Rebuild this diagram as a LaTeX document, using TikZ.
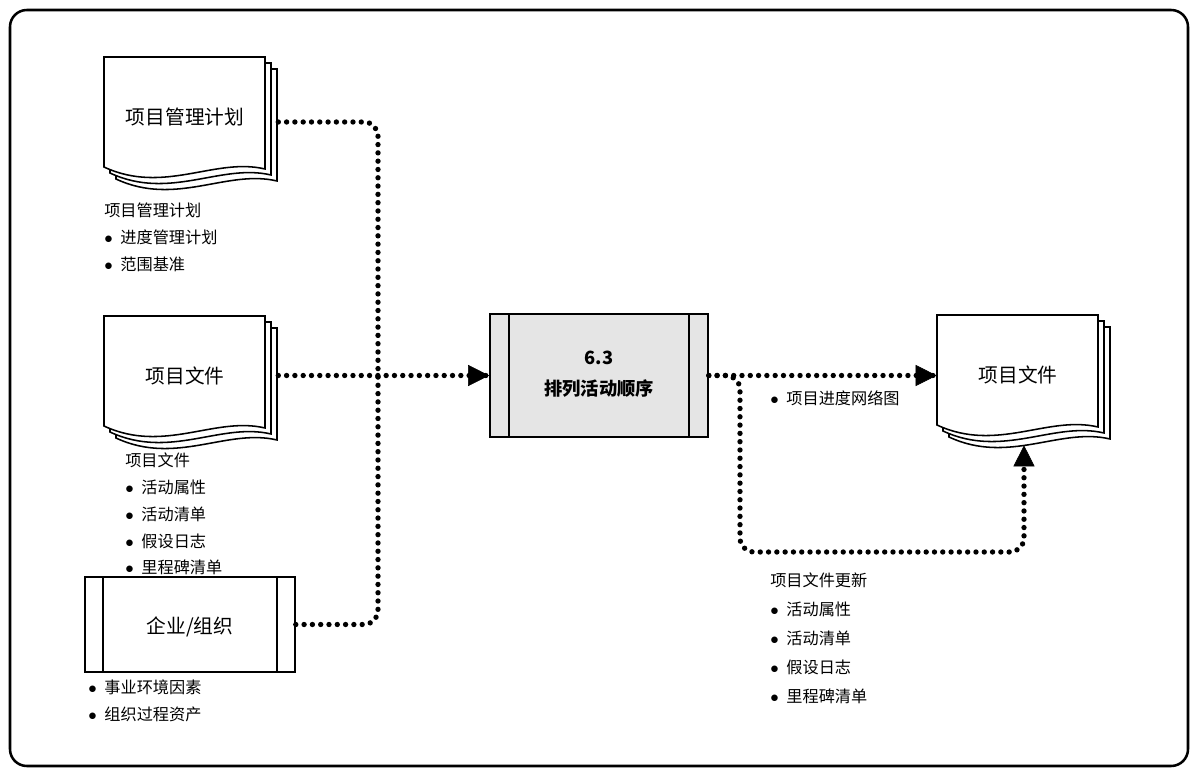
\documentclass[tikz,border=0pt]{standalone}
\usepackage{fontspec}
\setmainfont{Noto Sans CJK SC}
\usetikzlibrary{calc,arrows.meta}
\newcommand{\bul}{\makebox[1.0em][l]{$\bullet$}}
\tikzset{
  flow/.style={line width=3.8pt, dash pattern=on 0pt off 5.9pt, line cap=round, rounded corners=10},
  tip/.style={-{Triangle[length=15pt,width=15pt]}},
  page/.style={draw, fill=white, line width=1.1pt},
  title/.style={font=\fontsize{14}{16}\selectfont},
  notes/.style={anchor=north west, align=left, inner sep=0pt, font=\fontsize{11.5}{19}\selectfont},
  frame/.style={draw, fill=gray!20, line width=1.1pt, minimum width=5.45cm, minimum height=3.08cm},
}
\newcommand{\docshape}[4]{%
  \begin{scope}[shift={(#2,#3)}]
  \foreach \o in {12,6,0}
    \draw[page] (\o,\o) -- ++(161,0) -- ++(0,112) .. controls ++(-50,-12) and ++(60,28) .. ++(-161,-2) -- cycle;
  \node[minimum width=4.35cm, minimum height=3.25cm, inner sep=0pt] (#1) at (87,65) {};
  \node[title] (#1-t) at (81,60) {#4};
  \end{scope}}
\begin{document}
\begin{tikzpicture}[x=0.025cm, y=-0.025cm]
\useasboundingbox (0,0) rectangle (1198,776);
\draw[line width=1.8pt, rounded corners=12] (10,10) rectangle (1188,766);

% inputs
\docshape{plan}{104}{57}{项目管理计划}
\docshape{files}{104}{316}{项目文件}
\node[frame, fill=white, minimum width=5.25cm, minimum height=2.38cm] (ent) at (190,624.5) {};
\draw[line width=1.1pt] ($(ent.north west)+(19,0)$) -- ($(ent.south west)+(19,0)$);
\draw[line width=1.1pt] ($(ent.north east)+(-19,0)$) -- ($(ent.south east)+(-19,0)$);
\node[title] (ent-t) at (190,627) {企业/组织};

% process
\node[frame] (proc) at (599,375.5) {};
\draw[line width=1.1pt] ($(proc.north west)+(20,0)$) -- ($(proc.south west)+(20,0)$);
\draw[line width=1.1pt] ($(proc.north east)+(-20,0)$) -- ($(proc.south east)+(-20,0)$);
\node[title, font=\fontsize{13}{22}\selectfont\bfseries, align=center] (proc-t) at (599,374) {6.3\\排列活动顺序};

% output
\docshape{out}{937}{315}{项目文件}

% notes
\node[notes] (n1) at (104,203) {项目管理计划\\\bul 进度管理计划\\\bul 范围基准};
\node[notes] (n2) at (125,453) {项目文件\\\bul 活动属性\\\bul 活动清单\\\bul 假设日志\\\bul 里程碑清单};
\node[notes] (n3) at (88,680) {\bul 事业环境因素\\\bul 组织过程资产};
\node[notes] (n4) at (770,390) {\bul 项目进度网络图};
\node[notes, font=\fontsize{11.5}{20.5}\selectfont] (n5) at (770,573) {项目文件更新\\\bul 活动属性\\\bul 活动清单\\\bul 假设日志\\\bul 里程碑清单};

% connectors
\coordinate (j1) at (378,377);
\coordinate (upd) at (740,552);
\draw[flow] (plan.east) -| (j1);
\draw[flow] (ent.east) -| (j1);
\draw[flow] (files.east |- proc) -- (proc.west);
\draw[tip] ([xshift=-1pt]proc.west) -- (proc.west);
\draw[flow] (proc.east) -- (out.west |- proc);
\draw[tip] ([xshift=-1pt]out.west |- proc) -- (out.west |- proc);
\draw[flow] (proc.east) -| (upd) -| (out.south);
\draw[tip] ([yshift=-1pt]out.south) -- (out.south);
\end{tikzpicture}
\end{document}
